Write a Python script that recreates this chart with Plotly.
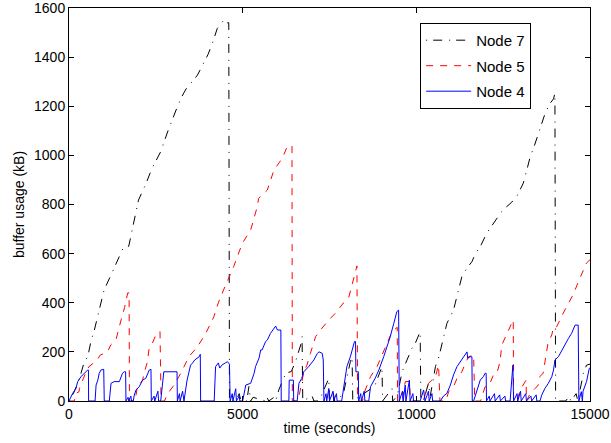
import plotly.graph_objects as go

# ---------------- data ----------------
node7_t = [0, 150, 300, 440, 540, 630, 730, 850, 1010, 1200, 1400, 1550, 1720, 1850, 2000,
           2200, 2400, 2640, 2850, 3120, 3250, 3410, 3550, 3700, 3880, 4000, 4130, 4270, 4400,
           4460, 4560, 4600, 4620,
           4800, 4900, 4950, 5120, 5180, 5230, 5300, 5660, 5700, 5750, 5900, 5950,
           6040, 6240, 6400, 6520, 6620, 6670, 6710, 6730,
           7000, 7050, 7200, 7480, 7500, 7600, 7650, 7700, 7900, 8000, 8100, 8150, 8170,
           8800, 8900, 9010, 9030, 9300, 9320, 9450, 9590, 9730, 9870, 9970, 10070, 10110, 10130,
           10200, 10350, 10400, 10450, 10550, 10650, 10780, 10830, 10880, 11070, 11200, 11310,
           11450, 11600, 11700, 11840, 12030, 12200, 12320, 12450, 12600, 12750, 12890, 13080,
           13180, 13280, 13400, 13510, 13710, 13850, 13950, 13990, 14010,
           14300, 14400, 14450, 14600, 14650, 14700, 14750, 14810, 14900, 15000]
node7_kb = [0, 37, 90, 160, 180, 242, 289, 360, 452, 510, 570, 620, 630, 720, 818,
            880, 950, 1015, 1100, 1198, 1240, 1280, 1300, 1327, 1381, 1410, 1457, 1517, 1540,
            1552, 1540, 1540, 0,
            0, 30, 0, 0, 60, 0, 15, 0, 15, 0, 15, 0,
            45, 113, 120, 160, 201, 228, 262, 0,
            20, 0, 0, 92, 0, 40, 0, 0, 30, 100, 160, 180, 0,
            60, 100, 140, 0, 51, 0, 20, 119, 167, 214, 235, 275, 282, 0,
            0, 72, 20, 60, 140, 180, 262, 289, 316, 370, 450, 506,
            540, 567, 600, 628, 684, 720, 745, 770, 791, 810, 832, 887,
            940, 995, 1040, 1090, 1172, 1212, 1230, 1253, 0,
            0, 20, 0, 30, 0, 38, 79, 113, 146, 150]

node5_t = [0, 150, 200, 290, 300, 490, 575, 800, 900, 1110, 1200, 1350, 1500, 1600, 1690, 1730, 1740,
           1900, 1970, 2120, 2160, 2260, 2300, 2400, 2500, 2620, 2650,
           2750, 2840, 3000, 3220, 3450, 3700, 3940, 4170, 4300, 4450, 4600, 4740, 4990, 5230,
           5420, 5460, 5710, 5900, 6140, 6280, 6420, 6430,
           6550, 6620, 6760, 6850, 6950, 7100, 7240, 7390, 7480, 7670, 7900, 8050, 8250, 8290, 8310,
           8450, 8530, 8680, 8870, 9010, 9160, 9300, 9450, 9460,
           9600, 9680, 9800, 9830, 10200, 10350, 10550, 10640, 10680,
           10850, 10930, 11070, 11170, 11310, 11410, 11500, 11650, 11680,
           11850, 11980, 12100, 12220, 12320, 12410, 12460, 12600, 12750, 12790, 12800,
           12900, 12990, 13130, 13160, 13170, 13280, 13420, 13510, 13560, 13650, 13790, 13900,
           13950, 14040, 14230, 14510, 14710, 14900, 15000]
node5_kb = [0, 0, 31, 38, 51, 119, 140, 165, 187, 200, 228, 248, 330, 380, 440, 440, 0,
            0, 58, 85, 113, 160, 208, 235, 269, 283, 0,
            0, 30, 60, 113, 180, 221, 276, 343, 400, 452, 500, 547, 642, 696,
            791, 825, 859, 940, 988, 1035, 1040, 0,
            0, 17, 119, 146, 194, 262, 289, 316, 330, 357, 399, 419, 526, 550, 0,
            0, 45, 99, 140, 187, 240, 282, 300, 0,
            0, 79, 80, 0, 0, 72, 99, 146, 0,
            0, 38, 58, 92, 119, 153, 180, 187, 0,
            0, 58, 65, 106, 113, 160, 228, 269, 316, 330, 0,
            0, 45, 79, 85, 0, 31, 51, 65, 100, 113, 235, 269,
            302, 302, 358, 432, 500, 562, 575]

node4_t = [0, 105, 200, 250, 345, 390, 450, 535, 560, 565,
           750, 780, 830, 870, 920, 1000, 1015,
           1160, 1210, 1300, 1450, 1490, 1540, 1590, 1630, 1640,
           1700, 1720, 1780, 1800, 1850, 1880, 1930, 2020, 2080, 2120, 2210, 2310, 2360, 2370,
           2450, 2470, 2560, 2580, 2640, 2700, 2730, 3110, 3120,
           3180, 3200, 3270, 3290, 3310, 3400, 3500, 3560, 3620, 3745, 3780, 3790,
           4180, 4220, 4300, 4340, 4400, 4500, 4560, 4620, 4640,
           4700, 4720, 4800, 4820, 4900, 4920, 5000, 5090, 5230, 5330, 5370, 5470, 5520, 5560,
           5660, 5710, 5800, 5900, 5950, 6000, 6100, 6110,
           6330, 6340, 6460, 6470, 6570, 6620, 6700, 6760, 6900, 7050, 7150, 7200, 7290, 7320, 7340,
           7400, 7420, 7480, 7500, 7600, 7620, 7700, 7720, 7850, 7950, 8000, 8100, 8150, 8220,
           8250, 8260, 8330, 8340,
           8400, 8420, 8500, 8520, 8630, 8680, 8820, 8920, 9060, 9160, 9250, 9350, 9440, 9490, 9510,
           9600, 9620, 9680, 9700, 9800, 9820, 9900, 9920, 10110, 10210, 10250, 10350, 10370,
           10450, 10470, 10690, 10780, 10880, 10980, 11070, 11170, 11260, 11360, 11440, 11460,
           11480, 11550, 11600, 11610,
           11650, 11740, 11840, 11930, 11980, 12010, 12020,
           12100, 12120, 12250, 12270, 12400, 12420, 12550, 12570, 12700, 12780, 12800,
           12900, 12920, 13000, 13020, 13150, 13170, 13300, 13320, 13450, 13470, 13560,
           13610, 13700, 13800, 13900, 13950, 13990, 14090, 14190, 14280, 14380, 14470, 14570,
           14660, 14680,
           14750, 14780, 14800, 14900, 14980, 15000]
node4_kb = [0, 31, 51, 79, 99, 106, 113, 126, 126, 0,
            0, 65, 85, 113, 126, 129, 0,
            0, 72, 79, 79, 99, 113, 119, 119, 0,
            15, 0, 20, 0, 0, 24, 45, 58, 72, 85, 92, 126, 129, 0,
            20, 0, 40, 0, 0, 100, 119, 119, 0,
            30, 0, 40, 0, 0, 85, 146, 155, 167, 180, 190, 0,
            0, 140, 155, 134, 146, 155, 160, 150, 0,
            30, 0, 50, 0, 20, 0, 0, 65, 72, 113, 140, 174, 208, 208,
            242, 248, 275, 296, 305, 289, 289, 0,
            0, 85, 85, 0, 0, 72, 92, 119, 140, 167, 194, 200, 194, 167, 0,
            30, 0, 51, 0, 40, 0, 30, 0, 0, 100, 140, 180, 208, 242,
            242, 119, 119, 0,
            30, 0, 40, 0, 0, 58, 94, 126, 180, 221, 262, 316, 364, 370, 0,
            40, 0, 65, 0, 85, 0, 30, 0, 0, 45, 0, 40, 0,
            30, 0, 0, 20, 31, 65, 106, 140, 160, 180, 197, 200,
            174, 180, 180, 0,
            0, 45, 85, 99, 113, 113, 0,
            20, 0, 30, 0, 25, 0, 20, 0, 0, 146, 0,
            30, 0, 40, 0, 30, 0, 20, 0, 25, 0, 0,
            24, 51, 72, 99, 126, 167, 180, 208, 228, 255, 275, 309,
            309, 0,
            38, 0, 40, 79, 133, 135]

x_ticks = [0, 5000, 10000, 15000]
y_ticks = [0, 200, 400, 600, 800, 1000, 1200, 1400, 1600]

series_names = ["Node 7", "Node 5", "Node 4"]

# ---------------- figure ----------------
FONT = "Liberation Sans, Arial, Helvetica, sans-serif"

fig = go.Figure()
fig.add_trace(go.Scatter(x=node7_t, y=node7_kb, mode="lines", name=series_names[0],
                         legendgroup="g7",
                         line=dict(color="#000000", width=1, dash="1px,6px,9px,7px")))
fig.add_trace(go.Scatter(x=node5_t, y=node5_kb, mode="lines", name=series_names[1],
                         legendgroup="g5",
                         line=dict(color="#ff0000", width=1, dash="7px,7px")))
fig.add_trace(go.Scatter(x=node4_t, y=node4_kb, mode="lines", name=series_names[2],
                         legendgroup="g4",
                         line=dict(color="#0000ff", width=1)))

axis_common = dict(showline=True, linecolor="#000000", linewidth=1, mirror="allticks",
                   ticks="inside", ticklen=5, tickcolor="#000000", showgrid=False,
                   zeroline=False, automargin=False, ticklabeloverflow="allow",
                   tickfont=dict(family=FONT, size=14, color="#000000"))

fig.update_layout(
    width=611, height=443,
    margin=dict(l=69, r=21, t=8, b=42),
    paper_bgcolor="white", plot_bgcolor="white",
    font=dict(family=FONT, size=14, color="#000000"),
    xaxis=dict(range=[0, 15000], tickvals=x_ticks, ticktext=[str(v) for v in x_ticks],
               title=dict(text="time (seconds)", font=dict(family=FONT, size=14), standoff=2),
               **axis_common),
    yaxis=dict(range=[0, 1600], tickvals=y_ticks, ticktext=[str(v) for v in y_ticks],
               title=dict(text="buffer usage (kB)", font=dict(family=FONT, size=14), standoff=6),
               **axis_common),
    legend=dict(x=0.674, y=0.962, xanchor="left", yanchor="top",
                bordercolor="#000000", borderwidth=1, bgcolor="white",
                font=dict(family=FONT, size=15, color="#000000"),
                itemwidth=45, tracegroupgap=3, traceorder="grouped"),
    showlegend=True,
)

# remove the default page margin so the figure sits at the window's top-left corner
fig.write_html("out.html", config={"displayModeBar": False},
               post_script="document.body.style.margin='0';")
